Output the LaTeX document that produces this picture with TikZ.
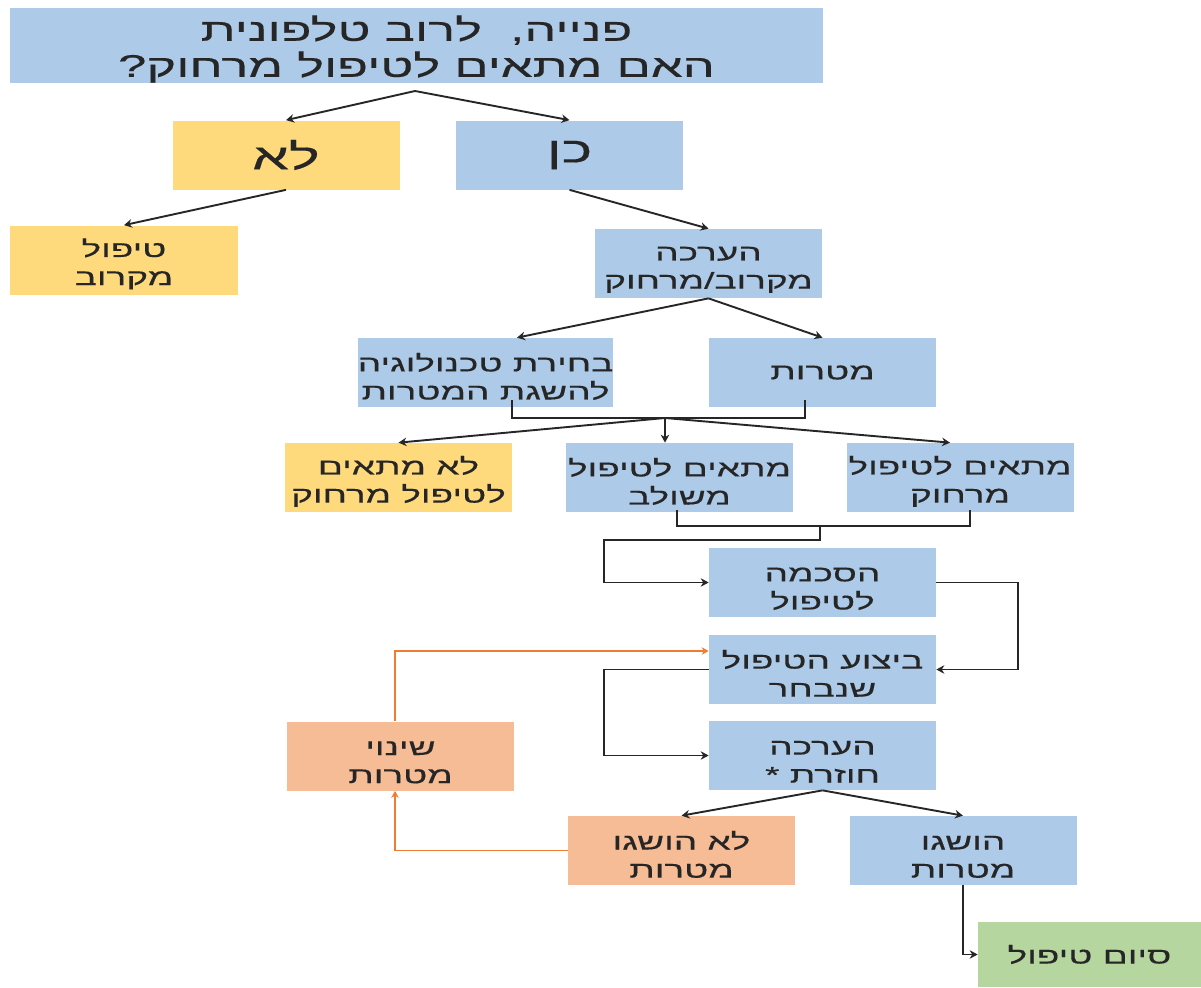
\documentclass[tikz,border=0pt]{standalone}
\usepackage{fontspec}
\usetikzlibrary{arrows.meta}
\newfontfamily\hebfont[Script=Hebrew,FakeStretch=1.62,FakeBold=0.4]{Liberation Sans}
\TeXXeTstate=1
\newcommand{\rtline}[1]{\beginR #1\endR}
\newcommand{\firstline}{\rule{0pt}{15pt}}
\newcommand{\bodyfont}{\hebfont\fontsize{13}{16}\selectfont\lineskiplimit -20pt\relax}
\newcommand{\bigfont}{\hebfont\fontsize{17.8}{20.5}\selectfont\lineskiplimit -20pt\relax}
\newcommand{\answerfont}{\hebfont\fontsize{20.5}{21}\selectfont}
\definecolor{boxblue}{RGB}{173,203,233}
\definecolor{boxyellow}{RGB}{255,218,125}
\definecolor{boxsalmon}{RGB}{245,188,150}
\definecolor{boxgreen}{RGB}{182,214,160}
\definecolor{backorange}{RGB}{237,125,49}
\tikzset{
  box/.style={fill=boxblue, text=black!85, minimum width=45.4mm, minimum height=13.8mm,
    inner sep=0pt, align=center, font=\bodyfont},
  ybox/.style={box, fill=boxyellow},
  sbox/.style={box, fill=boxsalmon},
  gbox/.style={box, fill=boxgreen},
  flow/.style={-{Stealth[length=1.6mm,width=1.7mm]}, line width=0.38mm, black!85},
  backflow/.style={-{Stealth[length=1.4mm,width=1.5mm]}, line width=0.3mm, backorange},
}
\begin{document}
\begin{tikzpicture}[x=0.2mm,y=-0.2mm]
    \useasboundingbox (0,0) rectangle (1201,987);
    % question and answers
    \node[box, minimum width=162.6mm, minimum height=15mm, font=\bigfont] (call) at (416.5,45.5)
      {\rtline{\rule{0pt}{18.5pt}פנייה,\ \ לרוב טלפונית}\\\rtline{האם מתאים לטיפול מרחוק?}};
    \node[ybox, font=\answerfont] (no) at (286,155) {\rtline{לא}};
    \node[box, font=\answerfont] (yes) at (569.5,155) {\rtline{כן}};
    \node[ybox] (near) at (124,260) {\rtline{\firstline טיפול}\\\rtline{מקרוב}};
    \node[box] (assess) at (708.5,263.5) {\rtline{\firstline הערכה}\\\rtline{מקרוב/מרחוק}};
    \node[box, minimum width=49.4mm] (tech) at (485.5,372.5)
      {\rtline{\firstline בחירת טכנולוגיה}\\\rtline{להשגת המטרות}};
    \node[box] (goals) at (822.5,372.5) {\rtline{מטרות}};
    \node[ybox] (unfit) at (398.5,477.5) {\rtline{\firstline לא מתאים}\\\rtline{לטיפול מרחוק}};
    \node[box] (mixed) at (679.5,477.5) {\rtline{\firstline מתאים לטיפול}\\\rtline{משולב}};
    \node[box] (remote) at (960,477.5) {\rtline{\firstline מתאים לטיפול}\\\rtline{מרחוק}};
    % treatment cycle
    \node[box] (consent) at (822.5,582.5) {\rtline{\firstline הסכמה}\\\rtline{לטיפול}};
    \node[box] (execute) at (822.5,669.5) {\rtline{\firstline ביצוע הטיפול}\\\rtline{שנבחר}};
    \node[box] (reassess) at (822.5,755.5) {\rtline{\firstline הערכה}\\\rtline{חוזרת *}};
    \node[sbox] (change) at (400.5,756) {\rtline{\firstline שינוי}\\\rtline{מטרות}};
    \node[sbox] (notmet) at (681.5,850.5) {\rtline{\firstline לא הושגו}\\\rtline{מטרות}};
    \node[box] (met) at (963,850.5) {\rtline{\firstline הושגו}\\\rtline{מטרות}};
    \node[gbox, minimum width=44.6mm, minimum height=13mm] (finish) at (1089.5,954.5) {\rtline{סיום טיפול}};
    \coordinate (callfork) at (415,91);
    \coordinate (goalsfork) at (665,418);
    \coordinate (fitfork) at (820,526);
    \draw[flow] (callfork) -- (no.north);
    \draw[flow] (callfork) -- (yes.north);
    \draw[flow] (no.south) -- (near.north);
    \draw[flow] (yes.south) -- (assess.north);
    \draw[flow] (assess.south) -- ([xshift=6.3mm]tech.north);
    \draw[flow] (assess.south) -- (goals.north);
    \draw[line width=0.38mm, black!85] ([xshift=5.3mm,yshift=1.4mm]tech.south) |- (goalsfork)
      -| ([xshift=-3.5mm,yshift=1.4mm]goals.south);
    \draw[flow] (goalsfork) -- (unfit.north);
    \draw[flow] (goalsfork) -- ([xshift=-2.9mm]mixed.north);
    \draw[flow] (goalsfork) -- ([xshift=-2mm]remote.north);
    \draw[line width=0.38mm, black!85] ([xshift=-0.5mm,yshift=0.4mm]mixed.south) |- (fitfork)
      -| ([xshift=2mm,yshift=0.4mm]remote.south);
    \draw[flow] (fitfork) -- ++(0,14) -| ++(-216,0) |- (consent.west);
    \draw[flow] (consent.east) -- ++(82,0) |- (execute.east);
    \draw[flow] (execute.west) -- ++(-105,0) |- (reassess.west);
    \draw[flow] (reassess.south) -- (notmet.north);
    \draw[flow] (reassess.south) -- (met.north);
    \draw[flow] (met.south) |- (finish.west);
    \draw[backflow] (notmet.west) -| ([xshift=-1.1mm]change.south);
    \draw[backflow] ([xshift=-1.1mm]change.north) |- ([yshift=3.7mm]execute.west);
\end{tikzpicture}
\end{document}
